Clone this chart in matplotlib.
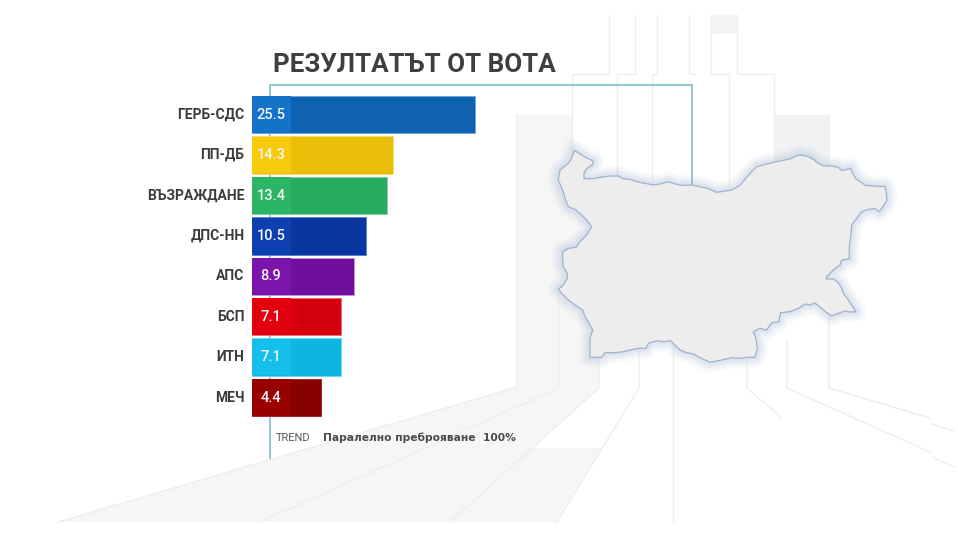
"""Резултатът от вота: паралелно преброяване 100%."""

import matplotlib

matplotlib.use("Agg")
import matplotlib.pyplot as plt
import numpy as np

WIDTH, HEIGHT = 958, 539

PARTIES = ["ГЕРБ-СДС", "ПП-ДБ", "ВЪЗРАЖДАНЕ", "ДПС-НН", "АПС", "БСП", "ИТН", "МЕЧ"]
VOTES = [25.5, 14.3, 13.4, 10.5, 8.9, 7.1, 7.1, 4.4]
BOX_COLORS = ["#1472c8", "#f7ca0c", "#2bb564", "#0c3fb0", "#7b14ab", "#e2000f", "#14bfec", "#990000"]
BAR_COLORS = ["#0e62b0", "#e9bd08", "#27ab5c", "#0a369f", "#6f109c", "#d6000c", "#10b4e0", "#890000"]
EDGE_COLORS = ["#6fa6dc", "#f8dc6a", "#7fd3a2", "#5f80d2", "#c98fe4", "#ea6f76", "#70d6f2", "#a02a2a"]

# Контур на картата, в пиксели от увеличения кадър (x / 3 + 540, y / 3 + 130)
MAP_X = [103, 118, 130, 148, 160, 158, 148, 138, 132, 132, 160, 185, 210, 235, 250, 270, 290, 315, 340, 360,
         385, 405, 425, 455, 480, 505, 530, 550, 575, 600, 620, 635, 650, 675, 700, 725, 750, 770, 785, 805,
         820, 835, 850, 875, 895, 905, 920, 932, 938, 948, 965, 975, 1000, 1035, 1040, 1040, 1030, 1018, 1005, 985,
         965, 950, 935, 932, 928, 928, 905, 900, 885, 875, 860, 858, 880, 895, 905, 910, 925, 948, 930, 915,
         895, 875, 860, 845, 825, 810, 795, 775, 750, 722, 716, 695, 680, 660, 640, 648, 652, 645, 620, 600,
         575, 545, 510, 485, 460, 440, 420, 400, 392, 370, 350, 325, 318, 295, 270, 250, 225, 195, 185, 165,
         150, 150, 150, 158, 145, 135, 128, 105, 85, 70, 55, 70, 82, 82, 70, 68, 68, 85, 108, 120,
         140, 155, 140, 125, 105, 85, 75, 70, 55, 60, 85, 95, 103]
MAP_Y = [62, 70, 78, 88, 93, 104, 110, 118, 130, 146, 146, 141, 138, 138, 146, 148, 155, 160, 165, 162,
         155, 162, 166, 165, 170, 176, 187, 184, 180, 166, 142, 125, 110, 103, 97, 92, 87, 77, 75, 80,
         88, 100, 108, 108, 112, 122, 118, 115, 130, 147, 158, 166, 168, 170, 195, 212, 228, 245, 236, 238,
         245, 265, 285, 320, 350, 387, 390, 405, 415, 425, 440, 447, 447, 458, 475, 490, 510, 545, 546, 543,
         550, 557, 548, 535, 519, 525, 522, 535, 545, 548, 575, 578, 600, 595, 605, 625, 655, 682, 682, 685,
         683, 690, 697, 685, 672, 668, 660, 640, 632, 635, 632, 640, 655, 655, 660, 665, 668, 668, 682, 682,
         682, 650, 625, 600, 575, 560, 540, 525, 510, 495, 478, 465, 445, 430, 410, 385, 365, 355, 352, 335,
         315, 290, 270, 255, 238, 230, 205, 185, 150, 120, 100, 85, 62]

# Фон: сиви плоскости и тънки линии
GREY_AREAS = [
    ([517, 572, 572, 599, 599, 450, 58, 517], [115, 115, 200, 200, 388, 522, 522, 387], "#f6f6f6"),
    ([532, 603, 557, 450], [448, 448, 522, 522], "#f6f6f6"),
    ([774, 829, 829, 774], [115, 115, 180, 180], "#f2f2f2"),
    ([711, 737, 737, 711], [15, 15, 34, 34], "#f5f5f5"),
]
BACK_LINES = [
    ([609, 609, 572, 572], [15, 74, 74, 170]),
    ([635, 635, 617, 617], [15, 74, 74, 180]),
    ([657, 657, 652, 652], [15, 74, 74, 185]),
    ([689, 689, 695], [15, 74, 74]),
    ([711, 711, 729, 729], [15, 74, 74, 195]),
    ([737, 737, 774, 774], [15, 74, 74, 170]),
    ([517, 517, 58], [115, 387, 522]),
    ([559, 559, 260], [300, 388, 522]),
    ([599, 599, 450], [300, 388, 522]),
    ([639, 639, 557], [340, 388, 522]),
    ([673, 673], [340, 522]),
    ([747, 747, 782], [340, 388, 418]),
    ([787, 787, 930], [340, 388, 452]),
    ([932, 954], [457, 467]),
    ([829, 829, 930], [115, 388, 418]),
    ([932, 953], [424, 431]),
]
TEAL_LINES = [
    ([270.5, 270.5, 692, 692], [458, 85, 85, 186]),
]

fig = plt.figure(figsize=(WIDTH / 100, HEIGHT / 100), dpi=100, facecolor="white")

# Фонът е в пиксели
bg = fig.add_axes([0, 0, 1, 1])
bg.set_xlim(0, WIDTH)
bg.set_ylim(HEIGHT, 0)
bg.axis("off")

for xs, ys, color in GREY_AREAS:
    bg.fill(xs, ys, color=color, lw=0, zorder=1)
for xs, ys in BACK_LINES:
    bg.plot(xs, ys, color="#eeeeee", lw=1.0, zorder=2, solid_joinstyle="miter")
for xs, ys in TEAL_LINES:
    bg.plot(xs, ys, color="#7fbfca", lw=1.2, zorder=3, solid_joinstyle="miter")

map_x = np.array(MAP_X) / 3 + 540
map_y = np.array(MAP_Y) / 3 + 130
for lw in [15, 12, 9, 7, 5, 3]:
    bg.plot(map_x, map_y, color="#a9bcd8", lw=lw, alpha=0.07, zorder=4, solid_joinstyle="round")
bg.fill(map_x, map_y, facecolor="#ededed", edgecolor="#9fb3ce", lw=0.9, zorder=5)

# Стълбовете: мащабът е 7.3 px за единица, нулата е при x = 289 px
ax = fig.add_axes([0, 0, 1, 1], facecolor="none")
ax.set_xlim(-289 / 7.3, (WIDTH - 289) / 7.3)
ax.set_ylim((HEIGHT - 114.7) / 40.4, -114.7 / 40.4)
ax.axis("off")

pos = np.arange(len(PARTIES))
box_left = -5.07
ax.barh(pos, np.array(VOTES) - box_left, left=box_left, height=0.93, color=BAR_COLORS,
        edgecolor=EDGE_COLORS, lw=0.7, zorder=2)
ax.barh(pos, 0.27 - box_left, left=box_left, height=0.91, color=BOX_COLORS, lw=0, zorder=3)

for i, (party, vote) in enumerate(zip(PARTIES, VOTES)):
    ax.text(-6.1, i, party, ha="right", va="center", fontsize=10, fontweight="bold",
            family="Roboto", color="#3b3b3b", zorder=4)
    ax.text(-2.45, i, f"{vote}", ha="center", va="center", fontsize=10.5, fontweight="medium",
            family="Roboto", color="#f4f6f8", zorder=4)

fig.text(273 / WIDTH, 1 - 65.5 / HEIGHT, "РЕЗУЛТАТЪТ ОТ ВОТА", ha="left", va="center", fontsize=18.7,
         fontweight="bold", family="Roboto", color="#3f3f3f")
fig.text(276 / WIDTH, 1 - 438 / HEIGHT, "TREND", ha="left", va="center", fontsize=8,
         family="Roboto", color="#5a5a5a")
fig.text(323 / WIDTH, 1 - 438 / HEIGHT, "Паралелно преброяване  100%", ha="left", va="center", fontsize=7.7,
         fontweight="bold", family="DejaVu Sans", color="#4a4a4a")

fig.savefig("out.png", dpi=100)
